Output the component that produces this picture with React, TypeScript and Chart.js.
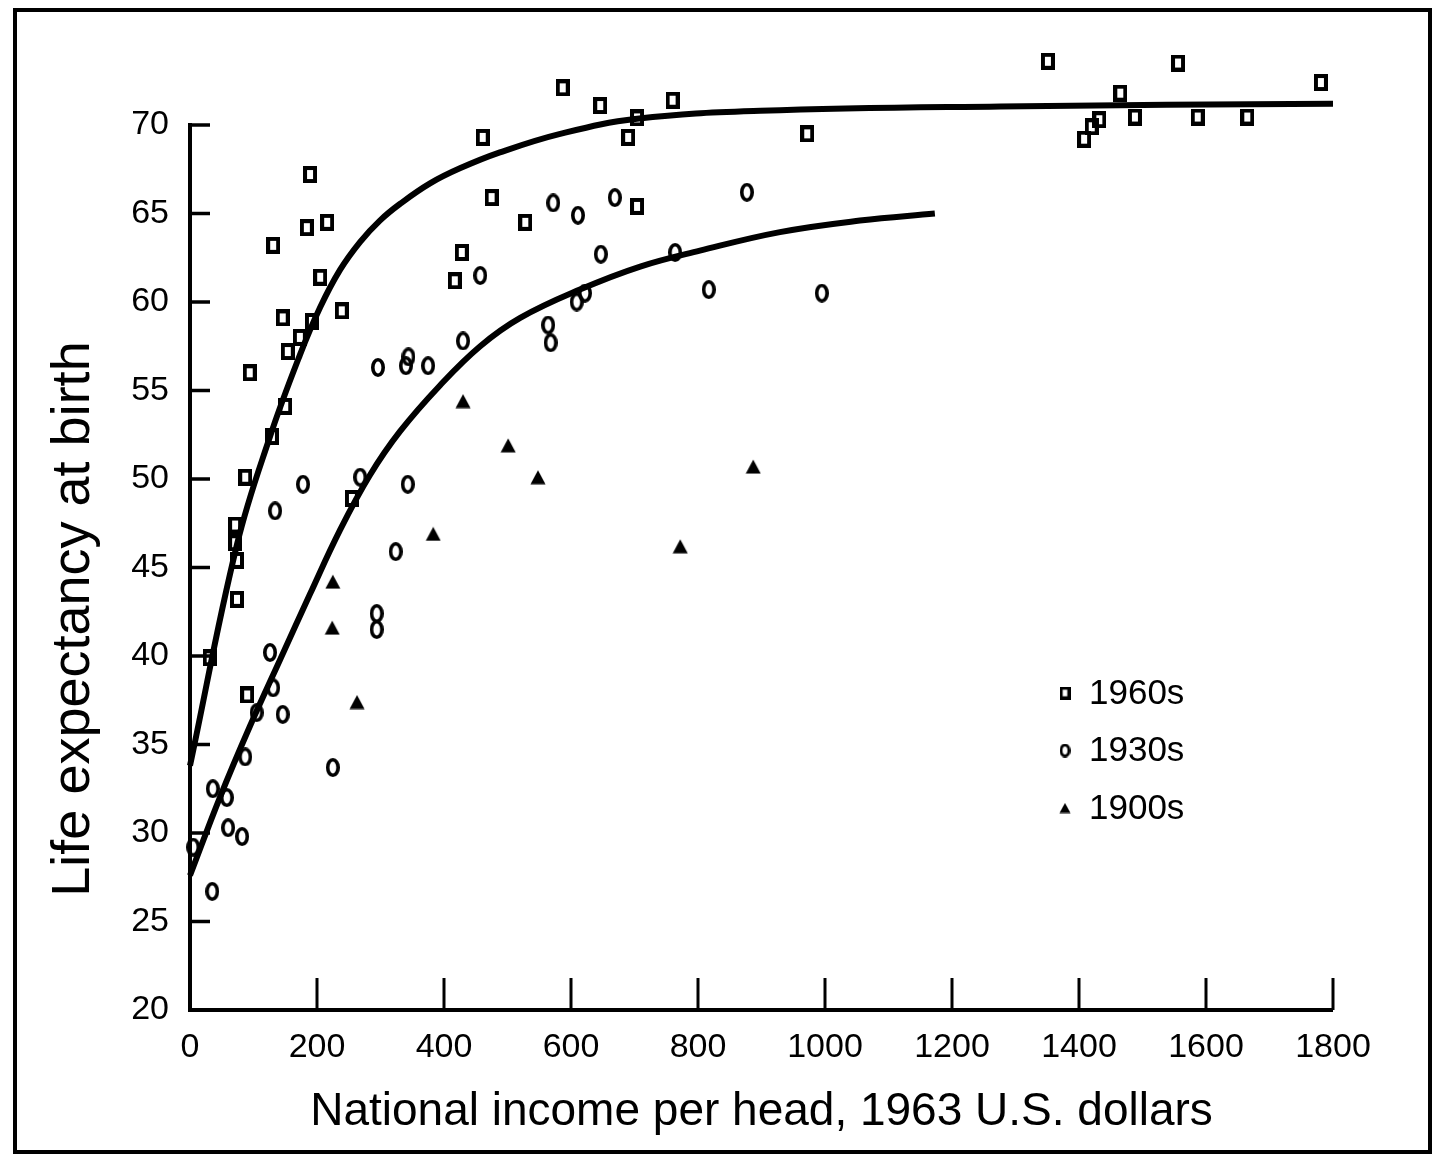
import React, { useEffect, useRef } from 'react';
import { Chart, registerables } from 'chart.js';

Chart.register(...registerables);

// ---- Data ----
const xTickValues = [0, 200, 400, 600, 800, 1000, 1200, 1400, 1600, 1800];
const yTickValues = [20, 25, 30, 35, 40, 45, 50, 55, 60, 65, 70];

const seriesLabels = ['1960s', '1930s', '1900s'];

const income1960s = [31, 90, 74, 74, 71, 71, 87, 94, 129, 150, 154, 146, 173, 192, 131, 184, 216, 189, 205, 239, 255, 417, 428, 461, 475, 528, 587, 646, 690, 704, 704, 760, 972, 1351, 1408, 1420, 1432, 1465, 1488, 1556, 1587, 1665, 1781];
const life1960s = [39.9, 37.8, 43.2, 45.4, 46.4, 47.4, 50.1, 56.0, 52.4, 54.1, 57.2, 59.1, 58.0, 58.9, 63.2, 64.2, 64.5, 67.2, 61.4, 59.5, 48.9, 61.2, 62.8, 69.3, 65.9, 64.5, 72.1, 71.1, 69.3, 65.4, 70.4, 71.4, 69.5, 73.6, 69.2, 69.9, 70.3, 71.8, 70.45, 73.5, 70.45, 70.45, 72.4];

const income1930s = [35, 36, 58, 60, 82, 87, 5, 105, 126, 131, 146, 134, 178, 225, 268, 296, 294, 294, 324, 343, 340, 344, 375, 430, 457, 564, 568, 609, 622, 572, 611, 647, 669, 764, 817, 877, 995];
const life1930s = [26.7, 32.5, 32.0, 30.3, 29.8, 34.3, 29.2, 36.8, 40.2, 38.2, 36.7, 48.2, 49.7, 33.7, 50.1, 56.3, 42.4, 41.5, 45.9, 49.7, 56.4, 56.9, 56.4, 57.8, 61.5, 58.7, 57.7, 60.0, 60.5, 65.6, 64.9, 62.7, 65.9, 62.8, 60.7, 66.2, 60.5];

const income1900s = [225, 224, 263, 383, 430, 501, 548, 772, 887];
const life1900s = [44.2, 41.6, 37.4, 46.9, 54.4, 51.9, 50.1, 46.2, 50.7];

const curve1960sX = [0, 74, 126, 173, 205, 236, 268, 299, 331, 378, 425, 488, 583, 704, 898, 1276, 1800];
const curve1960sY = [33.8, 46.3, 52.4, 57.0, 59.7, 61.8, 63.4, 64.6, 65.55, 66.7, 67.55, 68.45, 69.5, 70.35, 70.8, 71.05, 71.2];

const curve1930sX = [0, 47, 94, 142, 189, 236, 283, 331, 394, 457, 520, 614, 709, 803, 929, 1055, 1173];
const curve1930sY = [27.6, 32.0, 36.0, 39.8, 43.5, 47.1, 50.2, 52.7, 55.3, 57.5, 59.1, 60.7, 62.0, 62.9, 63.95, 64.6, 65.0];

const xTitle = 'National income per head, 1963 U.S. dollars';
const yTitle = 'Life expectancy at birth';

const FONT = '"Liberation Sans", Arial, Helvetica, sans-serif';

function zip(xs: number[], ys: number[]) {
  return xs.map((x, i) => ({ x, y: ys[i] }));
}

function makeSquare(w: number, h: number, lw: number) {
  const c = document.createElement('canvas');
  c.width = w; c.height = h;
  const g = c.getContext('2d')!;
  g.strokeStyle = '#000';
  g.lineWidth = lw;
  g.strokeRect(lw / 2, lw / 2, w - lw, h - lw);
  return c;
}

function makeEllipse(w: number, h: number, lw: number) {
  const c = document.createElement('canvas');
  c.width = w; c.height = h;
  const g = c.getContext('2d')!;
  g.strokeStyle = '#000';
  g.lineWidth = lw;
  g.beginPath();
  g.ellipse(w / 2, h / 2, w / 2 - lw / 2, h / 2 - lw / 2, 0, 0, Math.PI * 2);
  g.stroke();
  return c;
}

function makeTriangle(w: number, h: number) {
  const c = document.createElement('canvas');
  c.width = w; c.height = h;
  const g = c.getContext('2d')!;
  g.fillStyle = '#000';
  g.beginPath();
  g.moveTo(w / 2, 0.5);
  g.lineTo(w - 0.5, h - 0.5);
  g.lineTo(0.5, h - 0.5);
  g.closePath();
  g.fill();
  return c;
}

export default function App() {
  const ref = useRef<HTMLCanvasElement>(null);

  useEffect(() => {
    document.body.style.margin = '0';
    document.body.style.overflow = 'hidden';
    const canvas = ref.current!;

    const sq = makeSquare(14, 17, 4);
    const el = makeEllipse(14, 19, 3.6);
    const tr = makeTriangle(16, 15);
    const legendMarks = [makeSquare(11, 13, 3.2), makeEllipse(11, 14, 3), makeTriangle(12, 11)];

    const decor = {
      id: 'decor',
      afterDraw(chart: any) {
        const ctx = chart.ctx as CanvasRenderingContext2D;
        const xs = chart.scales.x;
        const ys = chart.scales.y;
        const left = xs.getPixelForValue(0);
        const right = xs.getPixelForValue(1800);
        const bottom = ys.getPixelForValue(20);
        const top = ys.getPixelForValue(70);
        ctx.save();
        ctx.strokeStyle = '#000';
        ctx.fillStyle = '#000';
        // frame
        ctx.lineWidth = 4;
        ctx.strokeRect(15, 10, 1415, 1142);
        // axis lines
        ctx.lineWidth = 4;
        ctx.beginPath();
        ctx.moveTo(left, top - 2);
        ctx.lineTo(left, bottom);
        ctx.lineTo(right, bottom);
        ctx.stroke();
        // inward ticks
        ctx.lineWidth = 3.5;
        yTickValues.forEach((v) => {
          if (v === 20) return;
          const y = ys.getPixelForValue(v);
          ctx.beginPath();
          ctx.moveTo(left, y);
          ctx.lineTo(left + 20, y);
          ctx.stroke();
        });
        ctx.lineWidth = 3;
        xTickValues.forEach((v) => {
          if (v === 0) return;
          const x = xs.getPixelForValue(v);
          ctx.beginPath();
          ctx.moveTo(x, bottom);
          ctx.lineTo(x, bottom - 32);
          ctx.stroke();
        });
        // axis titles
        ctx.textAlign = 'center';
        ctx.textBaseline = 'middle';
        ctx.font = `46px ${FONT}`;
        ctx.fillText(xTitle, (left + right) / 2, 1112);
        ctx.save();
        ctx.translate(74, 619);
        ctx.rotate(-Math.PI / 2);
        ctx.font = `54px ${FONT}`;
        ctx.fillText(yTitle, 0, 0);
        ctx.restore();
        // legend
        ctx.textAlign = 'left';
        ctx.font = `35px ${FONT}`;
        seriesLabels.forEach((lab, i) => {
          const y = 693 + i * 57.5;
          const m = legendMarks[i];
          ctx.drawImage(m, 1065 - m.width / 2, y - m.height / 2);
          ctx.fillText(lab, 1089, y + 1);
        });
        ctx.restore();
      },
    };

    const chart = new Chart(canvas, {
      type: 'scatter',
      data: {
        datasets: [
          {
            type: 'line',
            label: 'curve1960s',
            data: zip(curve1960sX, curve1960sY),
            borderColor: '#000',
            borderWidth: 6,
            pointRadius: 0,
            tension: 0.4,
            fill: false,
            clip: false,
          } as any,
          {
            type: 'line',
            label: 'curve1930s',
            data: zip(curve1930sX, curve1930sY),
            borderColor: '#000',
            borderWidth: 6,
            pointRadius: 0,
            tension: 0.4,
            fill: false,
            clip: false,
          } as any,
          {
            label: seriesLabels[0],
            data: zip(income1960s, life1960s),
            pointStyle: sq,
            clip: false,
          } as any,
          {
            label: seriesLabels[1],
            data: zip(income1930s, life1930s),
            pointStyle: el,
            clip: false,
          } as any,
          {
            label: seriesLabels[2],
            data: zip(income1900s, life1900s),
            pointStyle: tr,
            clip: false,
          } as any,
        ],
      },
      options: {
        responsive: false,
        animation: false,
        devicePixelRatio: 1,
        // y max 74.5 keeps the points above 70 inside the drawable area; 70 stays at y=125
        layout: { padding: { left: 0, top: 45.35, right: 110, bottom: 0 } },
        plugins: { legend: { display: false }, tooltip: { enabled: false } },
        scales: {
          x: {
            type: 'linear',
            min: 0,
            max: 1800,
            afterFit: (s: any) => { s.height = 150; },
            afterBuildTicks: (s: any) => { s.ticks = xTickValues.map((v) => ({ value: v })); },
            grid: { display: false, drawTicks: false },
            border: { display: false },
            ticks: {
              color: '#000',
              font: { family: FONT, size: 34 },
              padding: 17,
              maxRotation: 0,
              autoSkip: false,
              callback: (v: any) => String(v),
            },
          },
          y: {
            type: 'linear',
            min: 20,
            max: 74.5,
            afterFit: (s: any) => { s.width = 190; },
            afterBuildTicks: (s: any) => { s.ticks = yTickValues.map((v) => ({ value: v })); },
            grid: { display: false, drawTicks: false },
            border: { display: false },
            ticks: {
              color: '#000',
              font: { family: FONT, size: 34 },
              padding: 21,
              autoSkip: false,
              callback: (v: any) => String(v),
            },
          },
        },
      },
      plugins: [decor],
    } as any);

    return () => chart.destroy();
  }, []);

  return (
    <div style={{ width: 1443, height: 1160 }}>
      <canvas ref={ref} width={1443} height={1160} style={{ display: 'block' }} />
    </div>
  );
}
